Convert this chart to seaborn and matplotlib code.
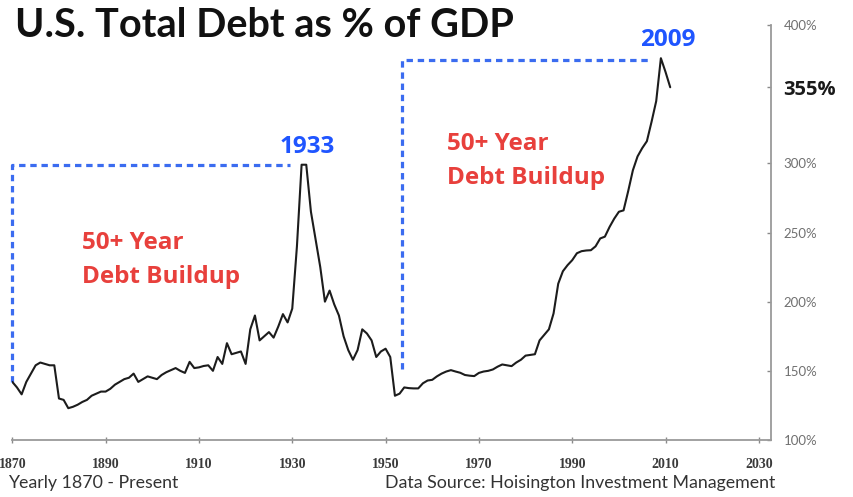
import matplotlib
matplotlib.use("Agg")
import matplotlib.pyplot as plt
import seaborn as sns
import pandas as pd

# ---------------- data ----------------
years = list(range(1870, 2012))
debt_pct = [
    142, 138, 133, 142, 148, 154, 156, 155, 154, 154,          # 1870-1879
    130, 129, 123, 124, 125.5, 127.5, 129, 132, 133.5, 135,   # 1880-1889
    135, 137, 140, 142, 144, 145, 148, 142, 144, 146,          # 1890-1899
    145, 144, 147, 149, 150.5, 152, 150, 148.5, 156.5, 152,    # 1900-1909
    152.5, 153.5, 154, 150, 160, 155, 170, 162, 163, 164,      # 1910-1919
    155, 180, 190, 172, 175, 178, 174, 182, 191, 185,          # 1920-1929
    195, 240, 299, 299, 265, 245, 225, 200, 208, 198,          # 1930-1939
    190, 175, 165, 158, 165, 180, 177, 172, 160, 164,          # 1940-1949
    166, 160, 132, 133.5, 138, 137.5, 137.3, 137.3, 141, 143,  # 1950-1959
    143.5, 146, 148, 149.5, 150.5, 149.5, 148.6, 147, 146.5, 146.2,  # 1960-1969
    148.5, 149.5, 150, 151, 153, 154.6, 154, 153.4, 156, 158,  # 1970-1979
    161, 161.5, 162, 172, 176, 180, 191.5, 213, 222, 226.4,    # 1980-1989
    230, 235, 236.5, 237, 237.2, 240, 245.7, 247, 254, 260,    # 1990-1999
    265, 266, 280, 295, 305, 311, 316, 330, 345, 376,          # 2000-2009
    366, 355,                                                  # 2010-2011
]
x_ticks = [1870, 1890, 1910, 1930, 1950, 1970, 1990, 2010, 2030]
y_ticks = [100, 150, 200, 250, 300, 355, 400]
y_tick_labels = ["100%", "150%", "200%", "250%", "300%", "355%", "400%"]

# annotation boxes (year, % level)
box1_x = [1870, 1870, 1929.5]
box1_y = [142, 299, 299]
box2_x = [1953.6, 1953.6, 2007]
box2_y = [151, 375, 375]

title = "U.S. Total Debt as % of GDP"
peak1_label = "1933"
peak2_label = "2009"
buildup_lines = ["50+ Year", "Debt Buildup"]
footer_left = "Yearly 1870 - Present"
footer_right = "Data Source: Hoisington Investment Management"

df = pd.DataFrame({"year": years, "debt": debt_pct})

# ---------------- figure ----------------
sns.set_theme(style="white")
plt.rcParams["font.family"] = ["Lato", "DejaVu Sans"]

W, H = 854, 497
fig = plt.figure(figsize=(W / 100, H / 100), dpi=100)
fig.patch.set_facecolor("white")

ax_left, ax_right, ax_bottom, ax_top = 12.3, 771, 440, 25
ax = fig.add_axes([ax_left / W, 1 - ax_bottom / H,
                   (ax_right - ax_left) / W, (ax_bottom - ax_top) / H])
ax.set_facecolor("white")

sns.lineplot(data=df, x="year", y="debt", ax=ax, color="#1c1c1c",
             linewidth=1.5, legend=False)

dash_color = "#3b6cf0"
ax.plot(box1_x, box1_y, color=dash_color, linewidth=2.3,
        linestyle=(0, (2.0, 1.5)), clip_on=False, zorder=1)
ax.plot(box2_x, box2_y, color=dash_color, linewidth=2.3,
        linestyle=(0, (2.0, 1.5)), clip_on=False, zorder=1)

ax.set_xlim(1870, 2032.6)
ax.set_ylim(100, 400)
ax.set_xlabel("")
ax.set_ylabel("")

for s in ["left", "top"]:
    ax.spines[s].set_visible(False)
for s in ["right", "bottom"]:
    ax.spines[s].set_color("#9a9a9a")
    ax.spines[s].set_linewidth(1.3)

ax.yaxis.tick_right()
ax.set_xticks(x_ticks)
ax.set_xticklabels([str(v) for v in x_ticks])
ax.set_yticks(y_ticks)
ax.set_yticklabels(y_tick_labels)

ax.tick_params(axis="x", direction="inout", length=4, width=1, color="#8a8a8a",
               pad=11, labelsize=10, labelcolor="#3a3a3a", bottom=True)
ax.tick_params(axis="y", direction="in", length=3, width=1, color="#8a8a8a",
               pad=9, labelsize=9.5, labelcolor="#707070", right=True, left=False)
for lab in ax.get_xticklabels():
    lab.set_family(["Liberation Serif", "DejaVu Serif"])
    lab.set_fontweight("bold")
for lab in ax.get_yticklabels():
    if lab.get_text() == "355%":
        lab.set_fontsize(14.5)
        lab.set_fontweight("bold")
        lab.set_color("#1a1a1a")
        lab.set_family(["Open Sans", "DejaVu Sans"])


def fx(px):
    return px / W


def fy(py):
    return 1 - py / H


fig.text(fx(15), fy(37), title, fontsize=28.5, fontweight="bold",
         color="#111111", ha="left", va="baseline")

blue = "#1f55ff"
anno_font = ["Open Sans", "DejaVu Sans"]
fig.text(fx(307.5), fy(153), peak1_label, fontsize=17.5, fontweight="bold",
         color=blue, ha="center", va="baseline", family=anno_font)
fig.text(fx(668), fy(46), peak2_label, fontsize=17.5, fontweight="bold",
         color=blue, ha="center", va="baseline", family=anno_font)

red = "#e8403c"
for (xl, yb1, yb2) in [(82, 249, 283), (447, 150, 184)]:
    fig.text(fx(xl), fy(yb1), buildup_lines[0], fontsize=17.5, fontweight="bold",
             color=red, ha="left", va="baseline", family=anno_font)
    fig.text(fx(xl), fy(yb2), buildup_lines[1], fontsize=17.5, fontweight="bold",
             color=red, ha="left", va="baseline", family=anno_font)

fig.text(fx(8), fy(488), footer_left, fontsize=12.8, color="#333333",
         ha="left", va="baseline")
fig.text(fx(775), fy(488), footer_right, fontsize=12.8, color="#333333",
         ha="right", va="baseline")

fig.savefig("out.png", dpi=100, facecolor="white")
